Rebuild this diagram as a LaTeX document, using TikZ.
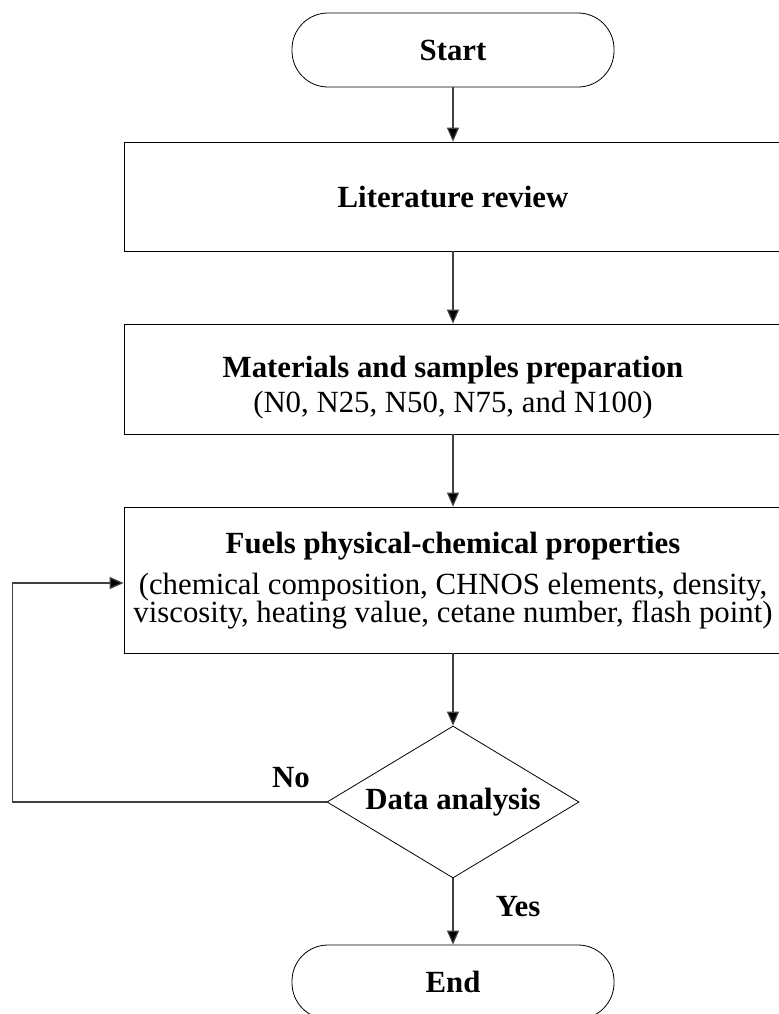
\documentclass[tikz,border=0pt]{standalone}
\usepackage{fontspec}
\setmainfont{Liberation Serif}
\usetikzlibrary{shapes.geometric}
\usetikzlibrary{arrows.meta}
\newcommand{\tightlines}{\lineskiplimit=-100pt\relax}

\begin{document}
\begin{tikzpicture}[x=0.5pt,y=-0.5pt,
	terminal/.style={draw, rounded corners=18pt, minimum width=161pt, minimum height=37pt, font=\fontsize{15.4}{15.4}\selectfont\bfseries},
	process/.style={draw, minimum width=329pt, align=center, inner sep=0pt},
	decision/.style={draw, diamond, aspect=1.66, inner sep=0pt, minimum width=126pt, minimum height=76pt, font=\fontsize{15.4}{15.4}\selectfont\bfseries},
	answer/.style={font=\fontsize{15.4}{15.4}\selectfont\bfseries, inner sep=0pt},
	flow/.style={draw=black!75, line width=0.6pt, -{Triangle[length=7pt,width=6pt,fill=black]}}]
	\useasboundingbox (0,0) rectangle (779,1014);
	\clip (0,0) rectangle (779,1014);
	\node[terminal] (start) at (453,50) {Start};
	\node[process, minimum height=54.5pt, font=\fontsize{15.4}{15.4}\selectfont\bfseries] (review) at (453,196.5) {Literature review};
	\node[process, minimum height=55pt, font=\fontsize{15.4}{17.5}\selectfont] (prep) at (453,379) {\rule{0pt}{19.5pt}\textbf{Materials and samples preparation}\\(N0, N25, N50, N75, and N100)};
	\node[process, minimum height=73pt, font=\fontsize{15.4}{14}\selectfont\tightlines] (props) at (453,580) {\rule{0pt}{11pt}\textbf{Fuels physical-chemical properties}\\[6.5pt](chemical composition, CHNOS elements, density,\\viscosity, heating value, cetane number, flash point)};
	\node[decision] (analysis) at (453,802) {Data analysis};
	\node[terminal] (finish) at (453,982) {End};
	\coordinate (back) at (12.5,583);
	\draw[flow] (start) -- (review);
	\draw[flow] (review) -- (prep);
	\draw[flow] (prep) -- (props);
	\draw[flow] (props) -- (analysis);
	\draw[flow] (analysis) -- (finish);
	\draw[flow] (analysis.west) -| (back) -- (back -| props.west);
	\node[answer] (no) at (291,777.5) {No};
	\node[answer] (yes) at (518,907) {Yes};
\end{tikzpicture}
\end{document}
